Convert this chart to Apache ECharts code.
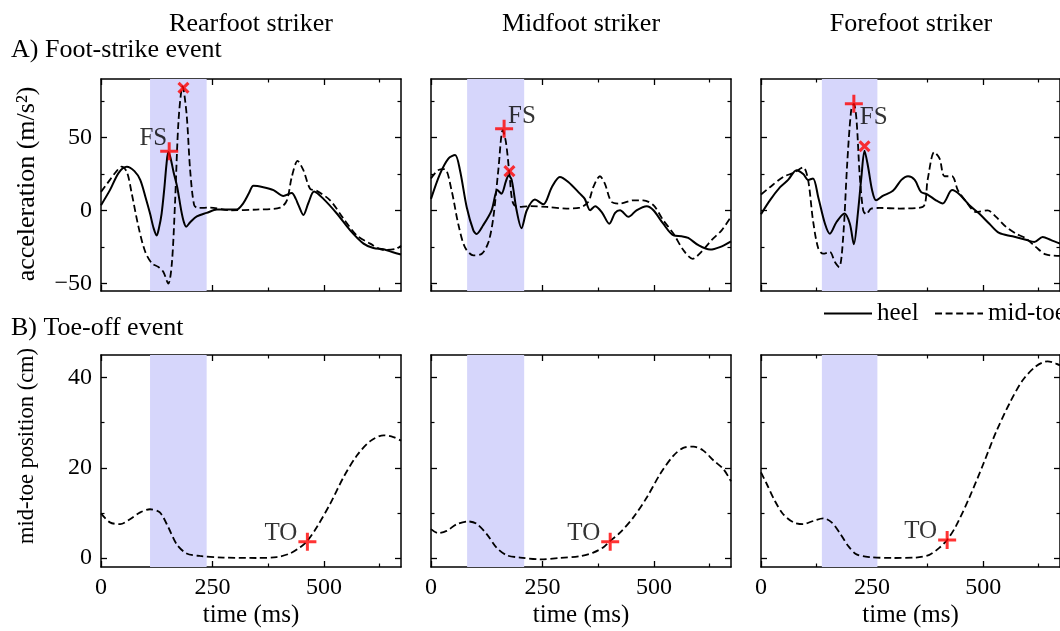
<!DOCTYPE html>
<html><head><meta charset="utf-8">
<script src="https://cdn.jsdelivr.net/npm/echarts@6/dist/echarts.min.js"></script>
<style>html,body{margin:0;padding:0;background:#fff}#c{width:1060px;height:631px}</style>
</head><body><div id="c"></div>
<script>
// ---------------- data ----------------
const columnTitles = ['Rearfoot striker', 'Midfoot striker', 'Forefoot striker'];
const rowTitles = ['A) Foot-strike event', 'B) Toe-off event'];
const accLabel = 'acceleration (m/s\u00B2)';
const posLabel = 'mid-toe position (cm)';
const timeLabel = 'time (ms)';
const legendNames = ['heel', 'mid-toe'];

const timeTicks = [0, 250, 500];
const timeMinor = [125, 375, 625];
const accTicks = [-50, 0, 50];
const accMinor = [-25, 25, 75];
const posTicks = [0, 20, 40];
const posMinor = [10, 30];

const spanRear = [110, 237];
const spanMid = [81, 209];
const spanFore = [137, 262];

// heel acceleration (solid)
const heelRear = [[0,3.7],[20,14],[40,26],[58,30],[75,27],[88,21],[100,9],[110,-2],[118,-12],[125,-17],[130,-12],[136,-2],[142,15],[147,32],[151,40],[156,36],[163,26],[171,16],[180,0],[186,-8],[191,-11],[200,-8],[215,-4],[237,-1.6],[260,0.7],[304,0.7],[319,5],[332,12],[342,17],[364,16],[387,14],[409,10],[428,12],[437,8],[443,3.7],[454,-3],[465,5],[478,13],[499,8],[529,-2],[559,-13.5],[589,-22.6],[611,-25.6],[634,-26.5],[655,-28.5],[673,-30]];
// mid-toe acceleration (dashed)
const toeRear = [[0,12.8],[20,21],[35,27],[46,30],[58,26.5],[69,11.6],[84,-11],[99,-28],[114,-36],[129,-38.6],[140,-42],[151,-50],[159,-36],[166,4.8],[174,62],[183,85],[192,66],[200,27.6],[209,3.7],[218,1.8],[245,2],[290,0.2],[349,0.7],[402,2],[417,7],[428,23],[441,34],[454,27.6],[469,15],[484,13.5],[514,7],[544,-5.5],[574,-17],[604,-22.6],[634,-27],[663,-26],[673,-24]];
const heelMid = [[0,8],[20,25],[39,35.6],[54,38],[65,27.6],[80,2.5],[95,-13.5],[102,-16],[117,-10],[136,0.2],[149,14],[158,11.6],[168,20],[174,24],[181,21],[192,0.2],[203,-12],[215,0.2],[233,7.5],[252,4.3],[271,16],[289,23],[308,19.6],[334,11.6],[345,8],[357,0.2],[368,3],[383,-1],[400,-9],[413,-1.6],[424,0.2],[443,-4.3],[461,0.2],[484,3],[499,0.2],[521,-9],[544,-17],[562,-17.6],[577,-18.7],[600,-23.7],[626,-26.7],[648,-25],[673,-21]];
const toeMid = [[0,22],[16,27.6],[31,28.3],[46,14],[61,-9],[76,-25],[95,-30.6],[114,-29.5],[129,-21.5],[140,-4.3],[151,27.6],[161,55],[168,47],[176,25],[183,6],[194,2.5],[222,3],[260,2.5],[304,1.4],[334,2],[353,6],[364,16],[379,23.5],[390,18.5],[405,6],[424,4.8],[454,7],[476,7],[499,3.7],[521,-6.6],[544,-15.8],[566,-27],[587,-33],[607,-28],[630,-20],[652,-13.5],[673,-4.3]];
const heelFore = [[0,-2.5],[20,7],[43,16],[61,21],[80,27.6],[95,25],[106,21],[117,22],[129,9],[144,-9],[155,-15.8],[170,-7.8],[188,-2],[200,-9],[209,-23],[218,-2],[226,23],[233,41],[241,30],[250,14],[259,7],[274,10],[297,13.5],[316,21],[331,23.5],[346,21],[360,12.8],[375,11],[394,7],[409,4.8],[430,14],[447,11],[469,3.7],[491,-2],[514,-9],[536,-15.3],[566,-17.6],[596,-20],[615,-21.5],[634,-18],[652,-20],[673,-22.6]];
const toeFore = [[0,11],[20,16],[50,23],[73,25.8],[95,29.5],[106,21],[117,-6.6],[129,-26],[140,-29.5],[155,-28.3],[166,-35],[176,-38.6],[185,-18],[194,32],[203,68.7],[209,73],[215,62],[222,25],[230,0.2],[237,-2.5],[248,1.4],[267,1.8],[312,1.4],[364,2.5],[375,21],[390,40],[402,35.6],[413,23.5],[430,23.5],[443,14],[462,6],[484,-1],[510,0.2],[529,-4.3],[551,-11],[574,-15.8],[596,-19],[619,-25],[641,-30],[673,-31]];

// mid-toe position (dashed)
const posRear = [[0,9.9],[20,7.9],[43,7.5],[65,8.6],[88,10.1],[110,10.8],[132,10.1],[151,6.8],[170,3.0],[192,1.0],[222,0.45],[274,0.1],[349,0],[394,0.2],[424,1],[447,2.4],[463,3.8],[484,6.8],[514,12],[544,17.9],[574,22.7],[604,25.9],[634,27.2],[656,26.8],[673,26]];
const posMid = [[0,6.4],[16,5.5],[35,6],[58,7.5],[84,8.1],[102,7.6],[125,5.3],[147,2.3],[170,0.6],[200,0.1],[245,-0.3],[289,0],[334,0.4],[364,1.2],[387,2.4],[402,3.8],[424,5.6],[454,9],[484,13.4],[514,18.6],[544,22.7],[566,24.4],[589,24.7],[611,23.8],[634,21.6],[656,19.7],[673,17]];
const posFore = [[0,19],[13,16.4],[31,12.7],[50,9.7],[73,7.9],[95,7.5],[117,8.2],[140,8.8],[159,7.9],[177,5.6],[196,2.7],[215,0.8],[245,0.2],[297,0],[349,0.1],[379,0.7],[402,2.3],[419,4],[439,7.1],[469,13.4],[499,20.5],[529,27.9],[559,34.2],[589,39.4],[619,42.5],[645,43.6],[664,43.1],[673,42.7]];

// event markers
const fsPoints = [[153, 40.6], [164, 56], [209, 73]];
const peakPoints = [[185, 84], [176, 27], [233, 44]];
const toPoints = [[463, 3.6], [402, 3.6], [419, 4]];

// ---------------- layout / option ----------------
const heel = [heelRear, heelMid, heelFore];
const toe = [toeRear, toeMid, toeFore];
const pos = [posRear, posMid, posFore];
const spans = [spanRear, spanMid, spanFore];

const FONT = '"Liberation Serif", "Times New Roman", serif';
const colLeft = [101, 431, 761];
const rowTop = [79, 355];
const GW = 300, GH = 212;
const TMAX = 673;
const fmt = v => String(v).replace('-', '\u2212');
const spanColor = 'rgb(214,214,251)';
const DASH = [7, 3.6];
const plusPath = 'path://M0,7.5H18V10.5H0Z M7.5,0H10.5V18H7.5Z';
const xPath = 'path://M0,7H18V11H0Z M7,0H11V18H7Z';
const fsLabel = [
  {align: 'right', offset: [-2, -13]},
  {align: 'left', offset: [4, -12]},
  {align: 'left', offset: [6, 14]}
];

const grids = [], xAxes = [], yAxes = [], series = [];
const lineCol = '#000';

function addAxes(g, isBottomRow, col) {
  const yMin = isBottomRow ? -2 : -55, yMax = isBottomRow ? 45 : 90;
  const yMaj = isBottomRow ? posTicks : accTicks;
  const yMin2 = isBottomRow ? posMinor : accMinor;
  const common = {type: 'value', gridIndex: g, splitLine: {show: false}};
  xAxes.push(Object.assign({}, common, {
    position: 'bottom', min: 0, max: TMAX,
    axisLine: {show: true, onZero: false, lineStyle: {color: lineCol, width: 1.5}},
    axisTick: {show: true, inside: true, length: 6, customValues: timeTicks, lineStyle: {color: lineCol, width: 1.3}},
    axisLabel: {show: isBottomRow, customValues: timeTicks, margin: 9, color: '#000', fontFamily: FONT, fontSize: 24, formatter: fmt},
    name: isBottomRow ? timeLabel : '', nameLocation: 'middle', nameGap: 36,
    nameTextStyle: {color: '#000', fontFamily: FONT, fontSize: 25}
  }));
  xAxes.push(Object.assign({}, common, {
    position: 'bottom', min: 0, max: TMAX,
    axisLine: {show: false, onZero: false},
    axisTick: {show: true, inside: true, length: 3.5, customValues: timeMinor, lineStyle: {color: lineCol, width: 1.2}},
    axisLabel: {show: false}
  }));
  xAxes.push(Object.assign({}, common, {
    position: 'top', min: 0, max: TMAX,
    axisLine: {show: true, onZero: false, lineStyle: {color: lineCol, width: 1.5}},
    axisTick: {show: true, inside: true, length: 6, customValues: timeTicks, lineStyle: {color: lineCol, width: 1.3}},
    axisLabel: {show: false}
  }));
  xAxes.push(Object.assign({}, common, {
    position: 'top', min: 0, max: TMAX,
    axisLine: {show: false, onZero: false},
    axisTick: {show: true, inside: true, length: 3.5, customValues: timeMinor, lineStyle: {color: lineCol, width: 1.2}},
    axisLabel: {show: false}
  }));
  yAxes.push(Object.assign({}, common, {
    position: 'left', min: yMin, max: yMax,
    axisLine: {show: true, onZero: false, lineStyle: {color: lineCol, width: 1.5}},
    axisTick: {show: true, inside: true, length: 6, customValues: yMaj, lineStyle: {color: lineCol, width: 1.3}},
    axisLabel: {show: col === 0, customValues: yMaj, margin: 9, color: '#000', fontFamily: FONT, fontSize: 24, formatter: fmt}
  }));
  yAxes.push(Object.assign({}, common, {
    position: 'left', min: yMin, max: yMax,
    axisLine: {show: false, onZero: false},
    axisTick: {show: true, inside: true, length: 3.5, customValues: yMin2, lineStyle: {color: lineCol, width: 1.2}},
    axisLabel: {show: false}
  }));
  yAxes.push(Object.assign({}, common, {
    position: 'right', min: yMin, max: yMax,
    axisLine: {show: true, onZero: false, lineStyle: {color: lineCol, width: 1.5}},
    axisTick: {show: true, inside: true, length: 6, customValues: yMaj, lineStyle: {color: lineCol, width: 1.3}},
    axisLabel: {show: false}
  }));
  yAxes.push(Object.assign({}, common, {
    position: 'right', min: yMin, max: yMax,
    axisLine: {show: false, onZero: false},
    axisTick: {show: true, inside: true, length: 3.5, customValues: yMin2, lineStyle: {color: lineCol, width: 1.2}},
    axisLabel: {show: false}
  }));
}

function lineSeries(name, data, g, dashed, span) {
  const s = {
    name: name, type: 'line', data: data, xAxisIndex: 4 * g, yAxisIndex: 4 * g,
    smooth: 0.3, symbol: 'none', showSymbol: false, z: 3,
    lineStyle: {color: '#000', width: dashed ? 1.8 : 2, type: dashed ? DASH : 'solid'},
    itemStyle: {color: '#000'}, animation: false
  };
  if (span) {
    s.markArea = {silent: true, itemStyle: {color: spanColor}, data: [[{xAxis: span[0]}, {xAxis: span[1]}]]};
  }
  return s;
}

for (let r = 0; r < 2; r++) {
  for (let c = 0; c < 3; c++) {
    const g = r * 3 + c;
    grids.push({left: colLeft[c], top: rowTop[r], width: GW, height: GH, containLabel: false});
    addAxes(g, r === 1, c);
  }
}

for (let c = 0; c < 3; c++) {
  series.push(lineSeries(legendNames[0], heel[c], c, false, spans[c]));
  series.push(lineSeries(legendNames[1], toe[c], c, true, null));
  series.push({
    name: 'FS', type: 'scatter', xAxisIndex: 4 * c, yAxisIndex: 4 * c, z: 5, animation: false,
    symbol: plusPath, symbolSize: 18, itemStyle: {color: '#ff0000'},
    label: {show: true, formatter: 'FS', position: 'inside', align: fsLabel[c].align, verticalAlign: 'middle',
      offset: fsLabel[c].offset, color: '#000', fontFamily: FONT, fontSize: 25},
    data: [fsPoints[c]]
  });
  series.push({
    name: 'peak', type: 'scatter', xAxisIndex: 4 * c, yAxisIndex: 4 * c, z: 5, animation: false,
    symbol: xPath, symbolSize: 14, symbolRotate: 45, itemStyle: {color: '#ff0000'},
    data: [peakPoints[c]]
  });
  const gb = 3 + c;
  series.push(lineSeries(legendNames[1], pos[c], gb, true, spans[c]));
  series.push({
    name: 'TO', type: 'scatter', xAxisIndex: 4 * gb, yAxisIndex: 4 * gb, z: 5, animation: false,
    symbol: plusPath, symbolSize: 18, itemStyle: {color: '#ff0000'},
    label: {show: true, formatter: 'TO', position: 'inside', align: 'right', verticalAlign: 'middle',
      offset: [-10, -8], color: '#000', fontFamily: FONT, fontSize: 25},
    data: [toPoints[c]]
  });
}

function txt(text, x, y, align, size, rot) {
  return {type: 'text', x: x, y: y, rotation: rot || 0, silent: true,
    style: {text: text, font: size + 'px ' + FONT, fill: '#000', align: align, verticalAlign: 'middle',
      textAlign: align, textVerticalAlign: 'middle'}};
}

const graphics = [];
for (let c = 0; c < 3; c++) graphics.push(txt(columnTitles[c], colLeft[c] + GW / 2, 24, 'center', 26));
graphics.push(txt(rowTitles[0], 11, 50, 'left', 26));
graphics.push(txt(rowTitles[1], 11, 328, 'left', 26));
graphics.push(txt(accLabel, 27, 184, 'center', 26, Math.PI / 2));
graphics.push(txt(posLabel, 27, 446, 'center', 22.5, Math.PI / 2));

const legendCommon = {
  orient: 'horizontal', top: 296, itemWidth: 48, itemHeight: 14, itemGap: 19,
  itemStyle: {opacity: 0}, selectedMode: false,
  textStyle: {color: '#000', fontFamily: FONT, fontSize: 25}
};

const option = {
  backgroundColor: '#fff',
  animation: false,
  grid: grids,
  xAxis: xAxes,
  yAxis: yAxes,
  legend: [
    Object.assign({}, legendCommon, {data: [legendNames[0]], left: 818}),
    Object.assign({}, legendCommon, {data: [legendNames[1]], left: 929})
  ],
  graphic: graphics,
  series: series
};

const chart = echarts.init(document.getElementById('c'), null, {renderer: 'canvas'});
chart.setOption(option);
</script>
</body></html>
